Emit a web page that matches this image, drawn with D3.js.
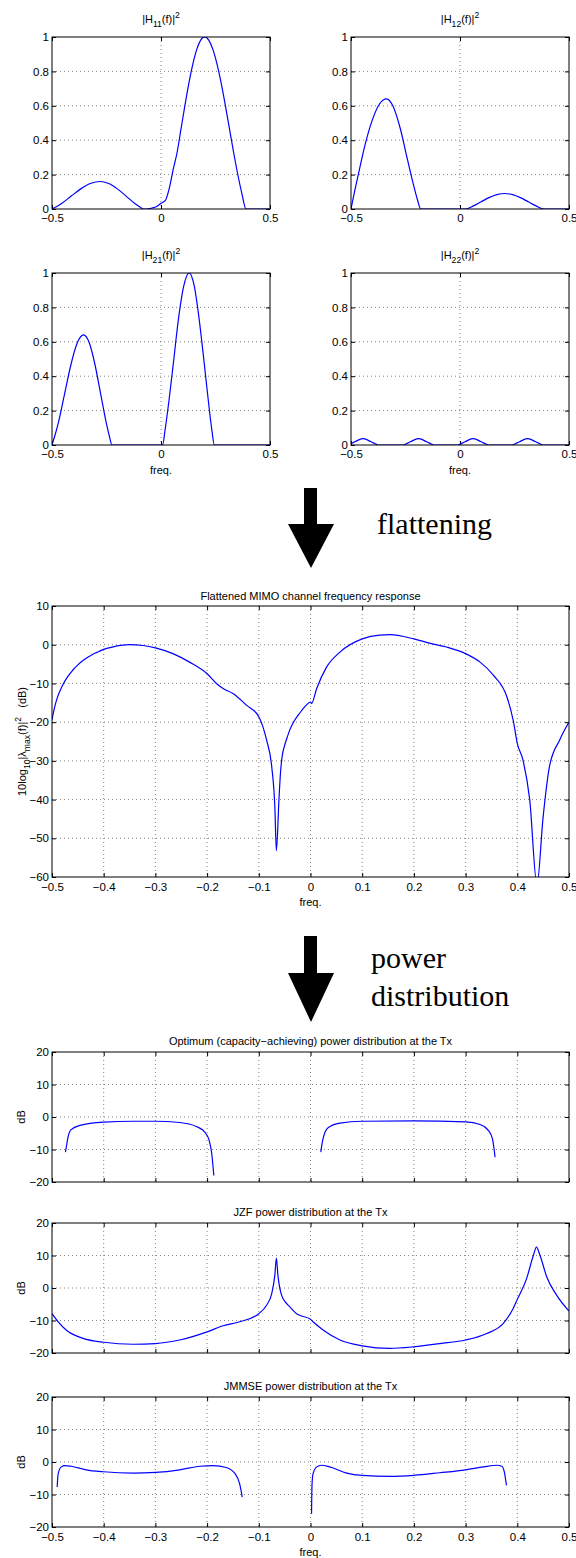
<!DOCTYPE html>
<html>
<head>
<meta charset="utf-8">
<script src="https://cdn.jsdelivr.net/npm/d3@7"></script>
<style>
body { margin: 0; background: #fff; }
svg { display: block; }
.grid line { stroke: #666; stroke-width: 0.8; stroke-dasharray: 1,3; }
</style>
</head>
<body>
<svg id="fig" width="576" height="1558"></svg>
<script>
// channel responses |Hij(f)|^2, [freq, value]
const h11 = [[-0.5,0],[-0.478,0.014],[-0.456,0.032],[-0.412,0.075],[-0.368,0.117],[-0.324,0.148],[-0.28,0.16],[-0.24,0.148],[-0.2,0.117],[-0.16,0.075],[-0.12,0.032],[-0.1,0.014],[-0.08,0],[-0.06,0.001],[-0.04,0.006],[-0.02,0.015],[0,0.033],[0.02,0.05],[0.038,0.12],[0.056,0.23],[0.074,0.33],[0.092,0.467],[0.11,0.604],[0.128,0.732],[0.146,0.842],[0.164,0.928],[0.182,0.982],[0.2,1],[0.219,0.982],[0.238,0.928],[0.257,0.842],[0.276,0.732],[0.295,0.604],[0.314,0.467],[0.333,0.33],[0.352,0.202],[0.371,0.09],[0.39,0],[0.5,0]]
const h12 = [[-0.5,0],[-0.484,0.1],[-0.467,0.198],[-0.435,0.376],[-0.402,0.518],[-0.37,0.609],[-0.337,0.64],[-0.306,0.594],[-0.274,0.468],[-0.243,0.299],[-0.211,0.129],[-0.196,0.058],[-0.18,0],[0.025,0],[0.061,0.018],[0.097,0.042],[0.133,0.066],[0.169,0.0835],[0.205,0.09],[0.241,0.0835],[0.277,0.066],[0.313,0.042],[0.349,0.018],[0.385,0],[0.5,0]]
const h21 = [[-0.5,0],[-0.486,0.058],[-0.471,0.129],[-0.442,0.299],[-0.413,0.468],[-0.384,0.594],[-0.355,0.64],[-0.329,0.594],[-0.303,0.468],[-0.277,0.299],[-0.251,0.129],[-0.238,0.058],[-0.225,0],[0.007,0],[0.019,0.09],[0.031,0.202],[0.056,0.467],[0.08,0.732],[0.105,0.928],[0.129,1],[0.152,0.928],[0.175,0.732],[0.199,0.467],[0.222,0.202],[0.233,0.09],[0.245,0],[0.5,0]]
const h22 = [[-0.5,0.008],[-0.48,0.02],[-0.465,0.03],[-0.445,0.037],[-0.425,0.03],[-0.41,0.02],[-0.395,0.011],[-0.375,0],[-0.26,0],[-0.24,0.011],[-0.225,0.02],[-0.21,0.03],[-0.19,0.037],[-0.17,0.03],[-0.155,0.02],[-0.14,0.011],[-0.12,0],[-0.01,0],[0.01,0.011],[0.025,0.02],[0.04,0.03],[0.06,0.037],[0.08,0.03],[0.095,0.02],[0.11,0.011],[0.13,0],[0.24,0],[0.26,0.011],[0.275,0.02],[0.29,0.03],[0.31,0.037],[0.33,0.03],[0.345,0.02],[0.36,0.011],[0.38,0],[0.5,0]]

// flattened response, dB
const flat = [[-0.5,-19.4],[-0.495,-16.2],[-0.49,-13.8],[-0.48,-10.6],[-0.47,-8.3],[-0.46,-6.6],[-0.45,-5.2],[-0.44,-4.1],[-0.43,-3.2],[-0.42,-2.4],[-0.41,-1.8],[-0.4,-1.2],[-0.38,-0.5],[-0.35,0],[-0.324,-0.2],[-0.3,-0.8],[-0.266,-2.3],[-0.234,-4.5],[-0.2,-7.5],[-0.182,-10],[-0.169,-11.3],[-0.15,-12.6],[-0.124,-15.6],[-0.1,-18.6],[-0.085,-24.6],[-0.075,-31.5],[-0.069,-41.8],[-0.066,-53.2],[-0.061,-40],[-0.058,-33],[-0.055,-29],[-0.05,-26],[-0.046,-24.3],[-0.04,-22],[-0.034,-20.3],[-0.021,-17.7],[-0.008,-15.6],[0,-14.8],[0.002,-15.2],[0.012,-11.3],[0.031,-5.8],[0.057,-1.9],[0.1,1.5],[0.134,2.5],[0.153,2.6],[0.2,1.5],[0.23,0.4],[0.263,-0.6],[0.3,-2.3],[0.328,-4.5],[0.354,-7.9],[0.38,-13.5],[0.392,-19.5],[0.4,-25.5],[0.411,-29.8],[0.424,-40],[0.438,-62],[0.45,-44.4],[0.462,-31.6],[0.482,-24.6],[0.5,-20]]

// power distributions, dB
const optLow = [[-0.474,-10.8],[-0.471,-8],[-0.469,-6.2],[-0.463,-3.9],[-0.446,-2.6],[-0.4,-1.6],[-0.343,-1.3],[-0.3,-1.3],[-0.253,-1.7],[-0.221,-2.9],[-0.205,-4.6],[-0.196,-7.2],[-0.191,-11.3],[-0.187,-18]]
const optHigh = [[0.02,-10.8],[0.022,-8.5],[0.025,-6.2],[0.034,-3.3],[0.057,-1.9],[0.1,-1.3],[0.2,-1.2],[0.3,-1.5],[0.328,-2.3],[0.344,-4.1],[0.352,-6.7],[0.357,-12.4]]
const jzf = [[-0.5,-7.9],[-0.488,-10.4],[-0.472,-13],[-0.44,-15.5],[-0.4,-16.7],[-0.343,-17.3],[-0.3,-17.1],[-0.253,-16],[-0.2,-13.5],[-0.169,-11.6],[-0.137,-10.4],[-0.1,-7.9],[-0.085,-5.3],[-0.075,-1.7],[-0.069,3.9],[-0.066,9.2],[-0.063,3.9],[-0.056,-2.2],[-0.046,-4.8],[-0.04,-5.8],[-0.027,-7.9],[-0.021,-8.4],[0,-9.6],[0.005,-10.4],[0.025,-13],[0.057,-16],[0.1,-17.8],[0.153,-18.6],[0.2,-18.1],[0.25,-17.1],[0.3,-16],[0.341,-14],[0.373,-10.9],[0.392,-6.3],[0.4,-3.5],[0.418,2.9],[0.431,10],[0.437,12.6],[0.444,10],[0.457,3.4],[0.476,-2.2],[0.5,-7.1]]
const jmmseLow = [[-0.49,-7.7],[-0.488,-3.6],[-0.482,-1.5],[-0.475,-1.1],[-0.463,-1.3],[-0.434,-2.4],[-0.4,-3],[-0.343,-3.4],[-0.3,-3.2],[-0.253,-2.4],[-0.214,-1.3],[-0.188,-1.1],[-0.163,-1.7],[-0.146,-3.6],[-0.137,-6.7],[-0.132,-10.8]]
const jmmseHigh = [[0.002,-15.9],[0.003,-6.7],[0.005,-3.6],[0.012,-1.5],[0.021,-1],[0.037,-1.5],[0.07,-3.4],[0.1,-4.1],[0.153,-4.4],[0.2,-4.1],[0.25,-3.3],[0.3,-2.4],[0.335,-1.5],[0.361,-1],[0.37,-1.3],[0.375,-3.1],[0.379,-7.2]]

// ticks
const smallXTicks = [-0.5, 0, 0.5]
const smallYTicks = [0, 0.2, 0.4, 0.6, 0.8, 1]
const freqTicks = [-0.5, -0.4, -0.3, -0.2, -0.1, 0, 0.1, 0.2, 0.3, 0.4, 0.5]
const flatTicks = [-60, -50, -40, -30, -20, -10, 0, 10]
const dbTicks = [-20, -10, 0, 10, 20]

const FONT = '"Liberation Sans", Arial, Helvetica, sans-serif'
const SERIF = '"Liberation Serif", "Times New Roman", serif'
const svg = d3.select('#fig')
const fmtFreq = d => d3.format('.1~f')(d)
const fmtInt = d => d3.format('d')(d)

// text with sub/superscripts: parts = [[text, 'sub'|'sup'|'']]
function richText(sel, parts, size) {
    let cur = 0
    parts.forEach(([t, kind]) => {
        const target = kind === 'sub' ? size * 0.32 : kind === 'sup' ? -size * 0.42 : 0
        const ts = sel.append('tspan').text(t).attr('dy', target - cur)
        if (kind) ts.attr('font-size', size * 0.78)
        cur = target
    })
}

let clipId = 0

function drawPanel(p) {
    const g = svg.append('g').attr('transform', `translate(${p.left},${p.top})`)
    const x = d3.scaleLinear().domain([-0.5, 0.5]).range([0, p.width])
    const y = d3.scaleLinear().domain(p.yDomain).range([p.height, 0])

    // dotted grid
    const grid = g.append('g').attr('class', 'grid')
    grid.selectAll('.gx').data(p.xTicks.filter(d => d > -0.5 && d < 0.5)).enter().append('line')
        .attr('x1', d => x(d)).attr('x2', d => x(d)).attr('y1', 0).attr('y2', p.height)
    grid.selectAll('.gy').data(p.yTicks.filter(d => d > p.yDomain[0] && d < p.yDomain[1])).enter().append('line')
        .attr('y1', d => y(d)).attr('y2', d => y(d)).attr('x1', 0).attr('x2', p.width)

    // inward ticks on all four sides
    const axes = []
    axes.push(g.append('g').attr('transform', `translate(0,${p.height})`)
        .call(d3.axisBottom(x).tickValues(p.xTicks).tickSize(-4).tickSizeOuter(0).tickPadding(p.xPad)
            .tickFormat(p.xLabels ? fmtFreq : '')))
    axes.push(g.append('g')
        .call(d3.axisTop(x).tickValues(p.xTicks).tickSize(-4).tickSizeOuter(0).tickFormat('')))
    axes.push(g.append('g')
        .call(d3.axisLeft(y).tickValues(p.yTicks).tickSize(-4).tickSizeOuter(0).tickPadding(3).tickFormat(p.yFmt)))
    axes.push(g.append('g').attr('transform', `translate(${p.width},0)`)
        .call(d3.axisRight(y).tickValues(p.yTicks).tickSize(-4).tickSizeOuter(0).tickFormat('')))
    axes.forEach(a => {
        a.attr('font-family', FONT).attr('font-size', p.tickSize)
        a.select('.domain').remove()
        a.selectAll('.tick text').attr('fill', '#000')
    })

    // curves
    const id = 'clip' + (clipId++)
    g.append('clipPath').attr('id', id).append('rect').attr('width', p.width).attr('height', p.height)
    const line = d3.line().x(d => x(d[0])).y(d => y(d[1])).curve(d3.curveMonotoneX)
    p.series.forEach(s => {
        g.append('path').datum(s).attr('d', line)
            .attr('clip-path', `url(#${id})`)
            .attr('fill', 'none').attr('stroke', '#0000ff').attr('stroke-width', 1.2)
    })

    g.append('rect').attr('width', p.width).attr('height', p.height)
        .attr('fill', 'none').attr('stroke', '#000').attr('stroke-width', 1)

    // title
    const title = g.append('text').attr('x', p.width / 2).attr('y', p.titleY)
        .attr('text-anchor', 'middle').attr('font-family', FONT).attr('font-size', p.titleSize)
    richText(title, p.title, p.titleSize)

    if (p.xLabel) {
        g.append('text').attr('x', p.width / 2).attr('y', p.height + p.xLabelY)
            .attr('text-anchor', 'middle').attr('font-family', FONT).attr('font-size', p.titleSize)
            .text('freq.')
    }
    if (p.yLabel) {
        const yl = g.append('text')
            .attr('transform', `translate(${p.yLabelX},${p.height / 2}) rotate(-90)`)
            .attr('text-anchor', 'middle').attr('font-family', FONT).attr('font-size', p.titleSize)
        richText(yl, p.yLabel, p.titleSize)
    }
}

// 2x2 grid of channel responses
const smallPanels = [
    { left: 52, top: 37, data: h11, sub: '11', xl: false },
    { left: 351, top: 37, data: h12, sub: '12', xl: false },
    { left: 52, top: 273, data: h21, sub: '21', xl: true },
    { left: 351, top: 273, data: h22, sub: '22', xl: true }
]
smallPanels.forEach(s => {
    drawPanel({
        left: s.left, top: s.top, width: 218, height: 172,
        yDomain: [0, 1], xTicks: smallXTicks, yTicks: smallYTicks,
        xLabels: true, xPad: 5, yFmt: fmtFreq, tickSize: 11.5, titleSize: 11,
        series: [s.data],
        title: [['|H', ''], [s.sub, 'sub'], ['(f)|', ''], ['2', 'sup']], titleY: -14,
        xLabel: s.xl, xLabelY: 29
    })
})

// flattened
drawPanel({
    left: 52, top: 606, width: 517, height: 271,
    yDomain: [-60, 10], xTicks: freqTicks, yTicks: flatTicks,
    xLabels: true, xPad: 6, yFmt: fmtInt, tickSize: 11.5, titleSize: 11,
    series: [flat],
    title: [['Flattened MIMO channel frequency response', '']], titleY: -6,
    xLabel: true, xLabelY: 29,
    yLabel: [['10log', ''], ['10', 'sub'], ['|\u03bb', ''], ['max', 'sub'], ['(f)|', ''], ['2', 'sup'], ['\u00a0\u00a0\u00a0(dB)', '']],
    yLabelX: -26
})

// power distributions
const powerPanels = [
    { top: 1052, series: [optLow, optHigh], title: 'Optimum (capacity\u2212achieving) power distribution at the Tx', last: false },
    { top: 1223, series: [jzf], title: 'JZF power distribution at the Tx', last: false },
    { top: 1397, series: [jmmseLow, jmmseHigh], title: 'JMMSE power distribution at the Tx', last: true }
]
powerPanels.forEach(s => {
    drawPanel({
        left: 52, top: s.top, width: 517, height: 130,
        yDomain: [-20, 20], xTicks: freqTicks, yTicks: dbTicks,
        xLabels: s.last, xPad: 6, yFmt: fmtInt, tickSize: 11.5, titleSize: 11,
        series: s.series,
        title: [[s.title, '']], titleY: -7,
        xLabel: s.last, xLabelY: 29,
        yLabel: [['dB', '']], yLabelX: -27
    })
})

// big arrows with captions
function arrow(top, headTop, tip) {
    const pts = [[304, top], [317, top], [317, headTop], [334, headTop], [311, tip], [288, headTop], [304, headTop]]
    svg.append('polygon').attr('points', pts.map(p => p.join(',')).join(' ')).attr('fill', '#000')
}
arrow(488, 524, 568)
arrow(936, 973, 1022)

svg.append('text').attr('x', 377).attr('y', 534).attr('font-family', SERIF).attr('font-size', 30).text('flattening')
svg.append('text').attr('x', 371).attr('y', 968).attr('font-family', SERIF).attr('font-size', 30).text('power')
svg.append('text').attr('x', 371).attr('y', 1006).attr('font-family', SERIF).attr('font-size', 30).text('distribution')
</script>
</body>
</html>
